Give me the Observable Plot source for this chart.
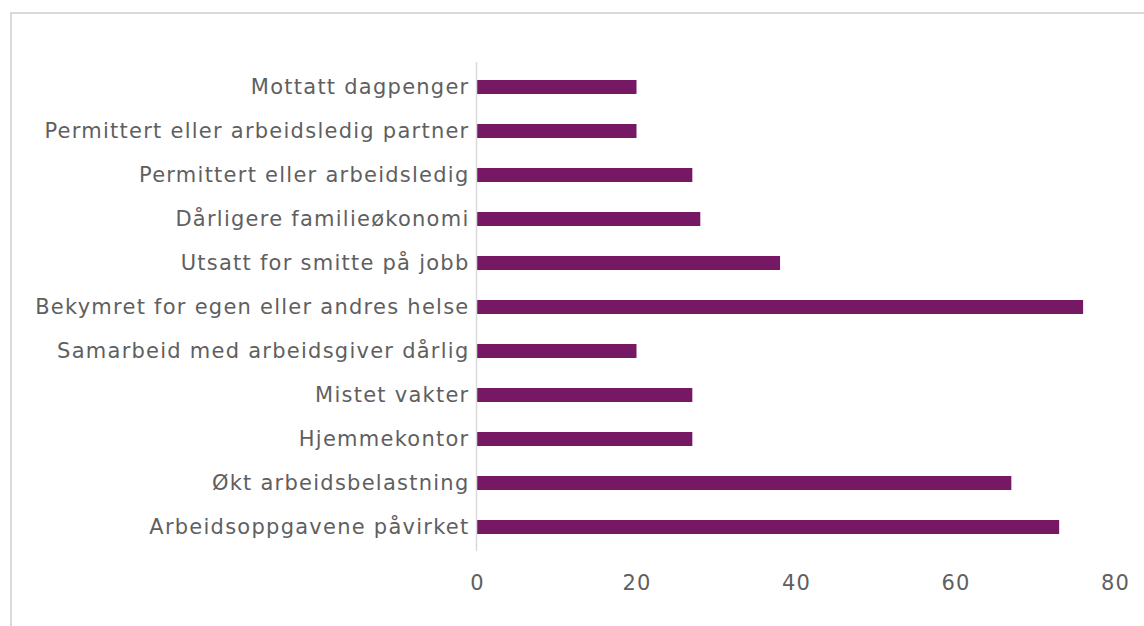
<!DOCTYPE html>
<html>
<head>
<meta charset="utf-8">
<script src="https://cdn.jsdelivr.net/npm/d3@7"></script>
<script src="https://cdn.jsdelivr.net/npm/@observablehq/plot@0.6"></script>
<style>
  html, body { margin: 0; padding: 0; background: #fff; overflow: hidden; width: 1144px; height: 626px; }
  #frame { position: absolute; left: 10px; top: 12px; width: 1200px; height: 700px; border: 2px solid #d9d9d9; box-sizing: border-box; }
  #chart { position: absolute; left: 0; top: 0; }
  #chart svg text { letter-spacing: 1.25px; }
</style>
</head>
<body>
<div id="frame"></div>
<div id="chart"></div>
<script>
const categories = [
  "Mottatt dagpenger",
  "Permittert eller arbeidsledig partner",
  "Permittert eller arbeidsledig",
  "Dårligere familieøkonomi",
  "Utsatt for smitte på jobb",
  "Bekymret for egen eller andres helse",
  "Samarbeid med arbeidsgiver dårlig",
  "Mistet vakter",
  "Hjemmekontor",
  "Økt arbeidsbelastning",
  "Arbeidsoppgavene påvirket"
];
const values = [20, 20, 27, 28, 38, 76, 20, 27, 27, 67, 73];
const xTicks = [0, 20, 40, 60, 80];

const data = categories.map((c, i) => ({category: c, value: values[i]}));

const chart = Plot.plot({
  width: 1144,
  height: 626,
  marginLeft: 477,
  marginRight: 29,
  marginTop: 62,
  marginBottom: 75,
  style: {fontFamily: "'DejaVu Sans', sans-serif", fontSize: "21px", color: "#5f5f5f", background: "transparent"},
  x: {domain: [0, 80], ticks: xTicks, label: null},
  y: {domain: categories, paddingInner: 0.69, paddingOuter: 0.345, label: null},
  marks: [
    Plot.barX(data, {y: "category", x: "value", fill: "#771864"}),
    Plot.ruleX([0], {stroke: "#d9d9d9", strokeWidth: 1.5, dx: -1}),
    Plot.axisY({tickSize: 0, tickPadding: 8, fontSize: 21, fill: "#5f5f5f", label: null}),
    Plot.axisX({ticks: xTicks, tickSize: 0, tickPadding: 24, fontSize: 21, fill: "#5f5f5f", label: null})
  ]
});
document.getElementById("chart").appendChild(chart);
</script>
</body>
</html>
